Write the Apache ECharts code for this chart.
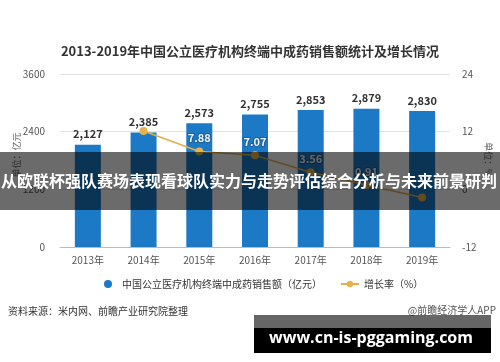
<!DOCTYPE html>
<html><head><meta charset="utf-8">
<script src="https://cdn.jsdelivr.net/npm/echarts@6/dist/echarts.min.js"></script>
<style>html,body{margin:0;padding:0;background:#fff}#c{width:500px;height:362px}</style>
</head><body><div id="c"></div>
<script>
const years = ['2013年','2014年','2015年','2016年','2017年','2018年','2019年'];
const sales = [2127, 2385, 2573, 2755, 2853, 2879, 2830];
const growth = [null, 12.13, 7.88, 7.07, 3.56, 0.91, -1.70];
const growthLabelShown = [false, false, true, true, true, true, false];
const titleText = '2013-2019年中国公立医疗机构终端中成药销售额统计及增长情况';
const salesName = '中国公立医疗机构终端中成药销售额（亿元）';
const growthName = '增长率（%）';
const sourceText = '资料来源：米内网、前瞻产业研究院整理';
const creditText = '@前瞻经济学人APP';
const bannerText = '从欧联杯强队赛场表现看球队实力与走势评估综合分析与未来前景研判';
const urlText = 'www.cn-is-pggaming.com';

const chart = echarts.init(document.getElementById('c'));
const ff = '"Noto Sans CJK SC","Noto Sans",sans-serif';
chart.setOption({
  animation: false,
  textStyle: {fontFamily: ff},
  title: {text: titleText, left: 'center', top: 40,
    textStyle: {fontSize: 13, fontWeight: 'bold', color: '#333', fontFamily: ff}},
  legend: {
    bottom: 68, left: 99, itemGap: 18, itemWidth: 18, itemHeight: 8,
    textStyle: {fontSize: 10, color: '#333'},
    data: [{name: salesName, icon: 'circle'}, {name: growthName}]
  },
  grid: {left: 60, right: 50, top: 74, bottom: 115},
  xAxis: {type: 'category', data: years,
    axisLine: {lineStyle: {color: '#bbb'}},
    axisTick: {alignWithLabel: true, lineStyle: {color: '#bbb'}},
    axisLabel: {color: '#555', fontSize: 10, margin: 8}},
  yAxis: [
    {type: 'value', min: 0, max: 3600, interval: 1200,
     axisLabel: {color: '#555', fontSize: 10, margin: 15, formatter: v => String(v)},
     splitLine: {lineStyle: {color: '#e3e3e3'}},
     axisLine: {show: false}, axisTick: {show: false}},
    {type: 'value', min: -12, max: 24, interval: 12,
     axisLabel: {color: '#555', fontSize: 10, margin: 12, formatter: v => String(v)},
     splitLine: {show: false},
     axisLine: {show: false}, axisTick: {show: false}}
  ],
  series: [
    {name: salesName, type: 'bar', data: sales, barWidth: 26,
     itemStyle: {color: '#1c79c6'},
     label: {show: true, position: 'top', fontSize: 11, fontWeight: 'bold', color: '#333',
       formatter: p => p.value.toLocaleString('en-US')}},
    {name: growthName, type: 'line', yAxisIndex: 1, data: growth,
     symbol: 'circle', symbolSize: 8,
     lineStyle: {color: '#e3b04a', width: 1.5},
     itemStyle: {color: '#e8b24a'},
     label: {show: true, position: 'top', fontSize: 11, fontWeight: 'bold', color: '#eef6ff',
       textBorderColor: '#1f5f98', textBorderWidth: 2, distance: 4,
       formatter: p => growthLabelShown[p.dataIndex] ? p.value.toFixed(2) : ''}}
  ],
  graphic: [
    {type: 'text', left: 8, top: 306, style: {text: sourceText, fontSize: 10, fill: '#333', fontFamily: ff}},
    {type: 'text', right: 4, top: 305, style: {text: creditText, fontSize: 10, fill: '#555', fontFamily: ff}},
    {type: 'text', x: 17, y: 155, rotation: Math.PI/2, style: {text: '单位：亿元', fontSize: 9, fill: '#666', fontFamily: ff, align: 'center', verticalAlign: 'middle'}},
    {type: 'text', x: 488, y: 160, rotation: -Math.PI/2, style: {text: '单位：%', fontSize: 9, fill: '#666', fontFamily: ff, align: 'center', verticalAlign: 'middle'}},
    {type: 'rect', z: 100, shape: {x: 0, y: 152, width: 500, height: 58}, style: {fill: 'rgba(0,0,0,0.58)'}},
    {type: 'text', z: 101, x: 1, y: 181, style: {text: bannerText, fontSize: 16, fontWeight: 'bold', fill: '#fff', fontFamily: ff, verticalAlign: 'middle'}},
    {type: 'rect', z: 100, shape: {x: 254, y: 315, width: 237, height: 13}, style: {fill: 'rgba(0,0,0,0.6)'}},
    {type: 'rect', z: 100, shape: {x: 254, y: 328, width: 237, height: 25}, style: {fill: '#000'}},
    {type: 'text', z: 101, x: 371, y: 338, style: {text: urlText, fontSize: 16, fontWeight: 'bold', fill: '#fff', fontFamily: '"Open Sans","Liberation Sans",sans-serif', align: 'center', verticalAlign: 'middle'}}
  ]
});
</script></body></html>
